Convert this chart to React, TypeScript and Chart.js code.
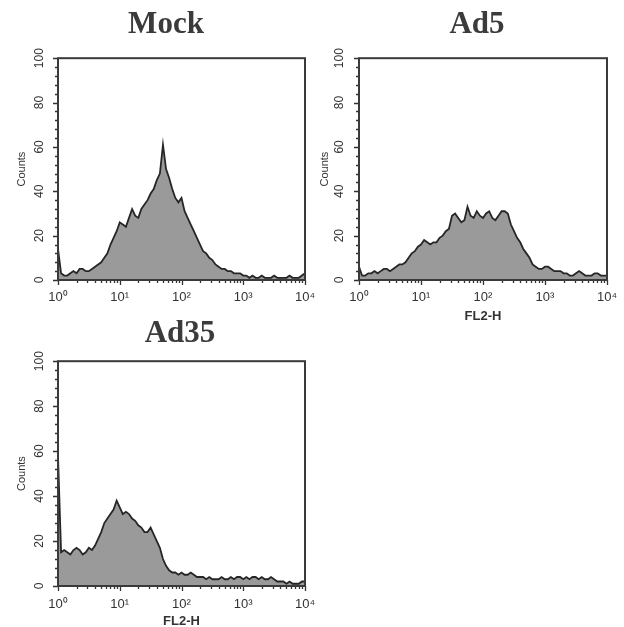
import React, { useEffect, useRef } from 'react';
import { Chart, registerables } from 'chart.js';

Chart.register(...registerables);

// ---------- data ----------
const PANEL_TITLES = ['Mock', 'Ad5', 'Ad35'];
const X_AXIS_TITLE = 'FL2-H';
const Y_AXIS_TITLE = 'Counts';

// histogram channels: 20 bins per decade from 10^0 to 10^4
const BINS_PER_DECADE = 20;
const DECADES = 4;
const X_BINS = Array.from({ length: BINS_PER_DECADE * DECADES + 1 }, (_, i) => Math.pow(10, i / BINS_PER_DECADE));

const MOCK_COUNTS = [
  14, 3, 2, 2, 3, 4, 3, 5, 5, 4,
  4, 5, 6, 7, 8, 10, 12, 16, 19, 22,
  26, 25, 24, 28, 32, 29, 28, 32, 34, 36,
  39, 41, 45, 48, 61, 50, 46, 41, 37, 35,
  37, 31, 28, 25, 22, 19, 16, 13, 12, 10,
  9, 7, 6, 5, 5, 4, 4, 3, 3, 3,
  2, 2, 1, 2, 1, 1, 2, 1, 1, 1,
  2, 1, 1, 1, 1, 2, 1, 1, 1, 2, 3,
];

const AD5_COUNTS = [
  6, 2, 2, 3, 3, 4, 3, 4, 5, 5,
  4, 5, 6, 7, 7, 8, 10, 12, 13, 15,
  16, 18, 17, 16, 17, 17, 19, 20, 22, 23,
  29, 30, 28, 26, 27, 33, 29, 28, 31, 29,
  28, 30, 31, 28, 27, 29, 31, 31, 30, 25,
  22, 19, 17, 14, 12, 10, 7, 6, 5, 5,
  6, 6, 5, 4, 4, 4, 3, 3, 2, 2,
  3, 4, 3, 2, 2, 2, 3, 3, 2, 2, 2,
];

const AD35_COUNTS = [
  58, 15, 16, 15, 14, 16, 17, 16, 14, 15,
  17, 16, 18, 21, 24, 28, 30, 32, 34, 38,
  35, 32, 33, 32, 30, 29, 27, 26, 24, 24,
  26, 23, 20, 17, 12, 9, 7, 6, 6, 5,
  6, 5, 5, 6, 5, 4, 4, 4, 3, 4,
  3, 3, 3, 4, 3, 3, 4, 3, 4, 4,
  3, 4, 3, 4, 4, 3, 4, 3, 3, 4,
  3, 2, 2, 2, 1, 2, 1, 1, 1, 2, 2,
];

const PANEL_COUNTS = [MOCK_COUNTS, AD5_COUNTS, AD35_COUNTS];
const PANEL_HAS_X_TITLE = [false, true, true];

const X_DECADE_VALUES = [1, 10, 100, 1000, 10000];
const X_DECADE_LABELS = ['10⁰', '10¹', '10²', '10³', '10⁴'];
const X_MINOR_MULTIPLIERS = [1, 2, 3, 4, 5, 6, 7, 8, 9];

const Y_MIN = 0;
const Y_MAX = 100;
const Y_MINOR_STEP = 4;
const Y_LABEL_STEP = 20;

// ---------- layout / style ----------
const W = 624;
const H = 627;
const INK = '#333333';
const FILL = '#9a9a9a';
const LINE = '#262626';

// pad: canvas padding; yWidth/rWidth: left axis box / right spacer box widths
const PANEL_LAYOUT = [
  { pad: { left: 20, right: 312, top: 0, bottom: 303 }, yWidth: 38, rWidth: 7, xHeight: 44, titlePad: { top: 6, bottom: 15 }, yTitlePad: -4.6, yTickPad: 8, xTickPad: 10, xTitlePadBottom: 0 },
  { pad: { left: 330, right: 0, top: 0, bottom: 303 }, yWidth: 29, rWidth: 17, xHeight: 44, titlePad: { top: 6, bottom: 15 }, yTitlePad: -11.6, yTickPad: 9, xTickPad: 10, xTitlePadBottom: 0 },
  { pad: { left: 20, right: 284, top: 300, bottom: 0 }, yWidth: 38, rWidth: 35, xHeight: 41, titlePad: { top: 15, bottom: 9 }, yTitlePad: -4.6, yTickPad: 8, xTickPad: 11, xTitlePadBottom: -2.4 },
];

const X_TICK_VALUES: number[] = [];
X_DECADE_VALUES.slice(0, DECADES).forEach((d) => X_MINOR_MULTIPLIERS.forEach((m) => X_TICK_VALUES.push(d * m)));
X_TICK_VALUES.push(X_DECADE_VALUES[DECADES]);

const isDecade = (v: number) => X_DECADE_VALUES.some((d) => Math.abs(d - v) < 1e-6 * d);

const frameTicks = {
  id: 'frameTicks',
  afterDatasetsDraw(chart: any) {
    const { ctx, chartArea } = chart;
    const { left, top, right, bottom } = chartArea;
    const x = chart.scales.x;
    const y = chart.scales.y;
    ctx.save();
    ctx.strokeStyle = INK;
    ctx.lineWidth = 1.3;
    ctx.beginPath();
    y.ticks.forEach((t: any) => {
      const py = Math.round(y.getPixelForValue(t.value)) + 0.5;
      const len = t.value % Y_LABEL_STEP === 0 ? 5 : 3;
      ctx.moveTo(left, py);
      ctx.lineTo(left - len, py);
    });
    x.ticks.forEach((t: any) => {
      const px = Math.round(x.getPixelForValue(t.value)) + 0.5;
      const len = isDecade(t.value) ? 5 : 3;
      ctx.moveTo(px, bottom);
      ctx.lineTo(px, bottom + len);
    });
    ctx.stroke();
    ctx.lineWidth = 2;
    ctx.strokeStyle = '#3a3a3a';
    ctx.strokeRect(left, top, right - left, bottom - top);
    ctx.restore();
  },
};

function HistogramPanel({ index }: { index: number }) {
  const ref = useRef<HTMLCanvasElement>(null);
  useEffect(() => {
    const L = PANEL_LAYOUT[index];
    const counts = PANEL_COUNTS[index];
    const chart = new Chart(ref.current as HTMLCanvasElement, {
      type: 'line',
      data: {
        datasets: [
          {
            data: X_BINS.map((x, i) => ({ x, y: counts[i] })),
            fill: 'origin',
            backgroundColor: FILL,
            borderColor: LINE,
            borderWidth: 1.8,
            pointRadius: 0,
            tension: 0,
          },
        ],
      },
      options: {
        responsive: false,
        animation: false,
        events: [],
        layout: { padding: L.pad },
        plugins: {
          legend: { display: false },
          tooltip: { enabled: false },
          title: {
            display: true,
            text: PANEL_TITLES[index],
            fullSize: true,
            color: '#3b3b3b',
            font: { family: "'Liberation Serif', 'Times New Roman', serif", size: 31, weight: 'bold', lineHeight: 1.2 },
            padding: L.titlePad,
          },
        },
        scales: {
          x: {
            type: 'logarithmic',
            min: X_DECADE_VALUES[0],
            max: X_DECADE_VALUES[DECADES],
            afterBuildTicks: (s: any) => {
              s.ticks = X_TICK_VALUES.map((v) => ({ value: v }));
            },
            afterFit: (s: any) => {
              s.height = L.xHeight;
              s.paddingLeft = 0;
              s.paddingRight = 0;
            },
            grid: { display: false, drawTicks: false },
            border: { display: false },
            ticks: {
              autoSkip: false,
              maxRotation: 0,
              minRotation: 0,
              padding: L.xTickPad,
              color: INK,
              font: { family: "'Liberation Sans', Arial, sans-serif", size: 13, lineHeight: 1.2 },
              callback: (v: any) => {
                const k = X_DECADE_VALUES.findIndex((d) => Math.abs(d - Number(v)) < 1e-6 * d);
                return k >= 0 ? X_DECADE_LABELS[k] : '';
              },
            },
            title: {
              display: PANEL_HAS_X_TITLE[index],
              text: X_AXIS_TITLE,
              color: INK,
              font: { family: "'Liberation Sans', Arial, sans-serif", size: 13, weight: 'bold', lineHeight: 1.2 },
              padding: { top: 0, bottom: L.xTitlePadBottom },
            },
          },
          y: {
            type: 'linear',
            min: Y_MIN,
            max: Y_MAX,
            afterFit: (s: any) => {
              s.width = L.yWidth;
              s.paddingTop = 0;
              s.paddingBottom = 0;
            },
            grid: { display: false, drawTicks: false },
            border: { display: false },
            ticks: {
              stepSize: Y_MINOR_STEP,
              autoSkip: false,
              minRotation: 90,
              maxRotation: 90,
              crossAlign: 'center',
              padding: L.yTickPad,
              color: INK,
              font: { family: "'Liberation Sans', Arial, sans-serif", size: 12, lineHeight: 1.2 },
              callback: (v: any) => (Number(v) % Y_LABEL_STEP === 0 ? String(v) : ''),
            },
            title: {
              display: true,
              text: Y_AXIS_TITLE,
              color: INK,
              font: { family: "'Liberation Sans', Arial, sans-serif", size: 11, lineHeight: 1.2 },
              padding: { top: L.yTitlePad, bottom: 0 },
            },
          },
          // empty right-hand spacer axis (keeps the panel title centred as in the figure)
          ySpacer: {
            type: 'linear',
            position: 'right',
            display: true,
            min: Y_MIN,
            max: Y_MAX,
            afterFit: (s: any) => {
              s.width = L.rWidth;
              s.paddingTop = 0;
              s.paddingBottom = 0;
            },
            grid: { display: false, drawTicks: false },
            border: { display: false },
            ticks: { display: false },
          },
        },
      } as any,
      plugins: [frameTicks],
    });
    return () => chart.destroy();
  }, [index]);
  return (
    <canvas
      ref={ref}
      width={W}
      height={H}
      style={{ position: 'absolute', left: 0, top: 0, width: W, height: H }}
    />
  );
}

export default function App() {
  return (
    <div style={{ position: 'absolute', left: 0, top: 0, width: W, height: H, overflow: 'hidden', background: '#fff' }}>
      {PANEL_TITLES.map((_, i) => (
        <HistogramPanel key={i} index={i} />
      ))}
    </div>
  );
}
